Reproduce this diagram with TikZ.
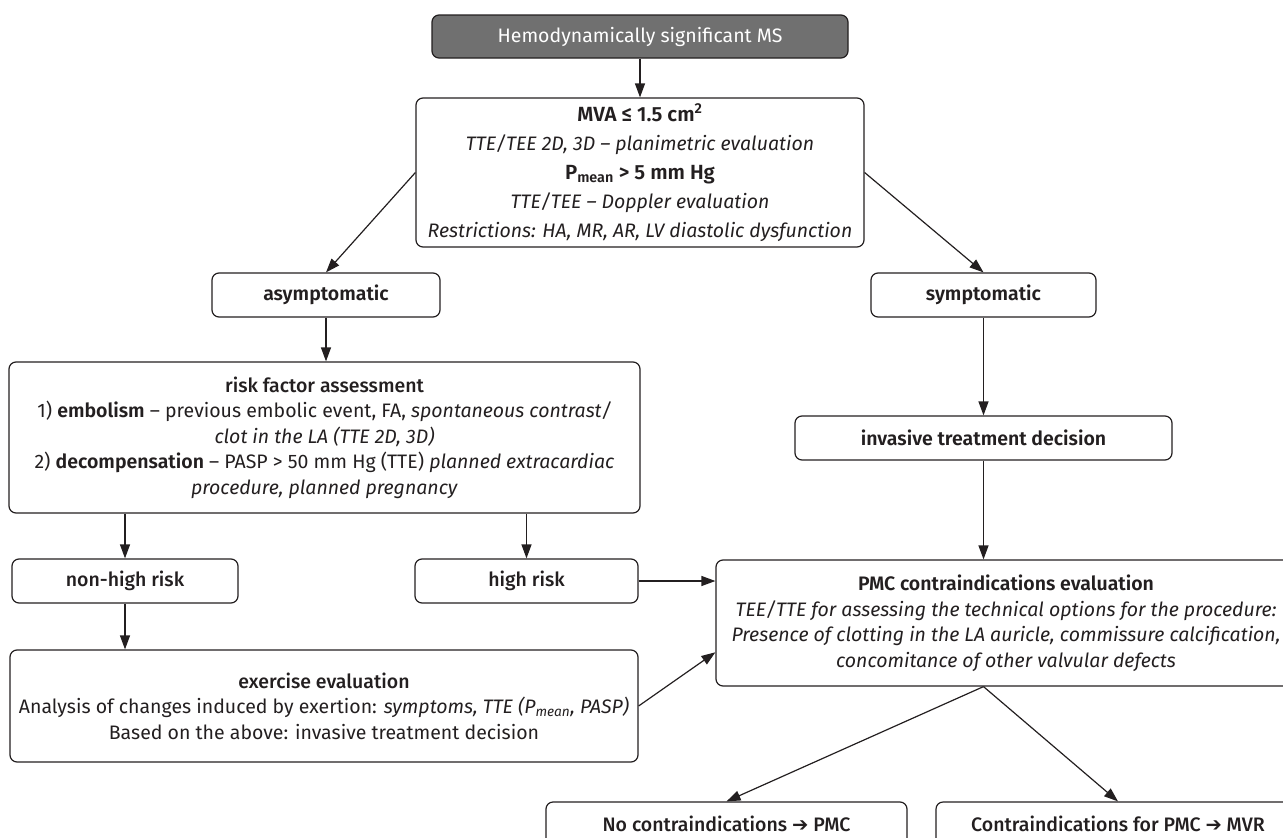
\documentclass[tikz,border=0pt]{standalone}
\usepackage{fontspec}
\setmainfont{Fira Sans}[BoldFont={Fira Sans SemiBold}]
\newfontfamily\arrowfont{DejaVu Sans}
\newfontfamily\medium{Fira Sans Medium}
\usetikzlibrary{arrows.meta,calc}
\definecolor{ink}{RGB}{35,31,32}
\definecolor{headgray}{RGB}{112,112,112}
\newcommand{\harrow}{{\arrowfont\bfseries ➔}}

\begin{document}
\begin{tikzpicture}[x=1pt,y=-1pt]
\tikzstyle{every node}+=[inner sep=0pt, text=ink, font=\fontsize{19.5}{25.5}\selectfont]
\tikzstyle{box}=[draw=ink, line width=1.2pt, rounded corners=7pt, align=center]
\tikzstyle{link}=[draw=ink, line width=1.2pt, -{Triangle[length=14pt,width=10pt]}]
\clip (0,0) rectangle (1283,838);
% top row
\node [box, fill=headgray, text=white, minimum width=416pt, minimum height=43pt] (ms) at (640,36.5) {Hemodynamically significant MS};
\node [box, minimum width=448pt, minimum height=149pt, font=\fontsize{19.5}{29}\selectfont] (mva) at (640,172.5) {%
{\bfseries\fontsize{20.5}{29}\selectfont MVA ≤ 1.5 cm\textsuperscript{2}}\\
{\itshape TTE/TEE 2D, 3D -- planimetric evaluation}\\
{\bfseries\fontsize{20.5}{29}\selectfont P\textsubscript{mean} > 5 mm Hg}\\
{\itshape TTE/TEE -- Doppler evaluation}\\
{\itshape Restrictions: HA, MR, AR, LV diastolic dysfunction}};
% left branch
\node [box, minimum width=228pt, minimum height=44pt, font=\fontsize{19.5}{25}\bfseries] (asym) at (326,295) {asymptomatic};
\node [box, minimum width=631pt, minimum height=151pt] (risk) at (324.5,437.5) {%
{\medium risk factor assessment}\\
1) \textbf{embolism} -- previous embolic event, FA, \textit{spontaneous contrast/}\\
\textit{clot in the LA (TTE 2D, 3D)}\\
2) \textbf{decompensation} -- PASP > 50 mm Hg (TTE) \textit{planned extracardiac}\\
\textit{procedure, planned pregnancy}};
\node [box, minimum width=226pt, minimum height=44pt, font=\fontsize{19.5}{25}\medium] (low) at (125,581) {non-high risk};
\node [box, minimum width=223pt, minimum height=44pt, font=\fontsize{19.5}{25}\medium] (high) at (526.5,581) {high risk};
\node [box, minimum width=628pt, minimum height=112pt] (exer) at (324,706) {%
{\medium exercise evaluation}\\
Analysis of changes induced by exertion: \textit{symptoms, TTE (P\textsubscript{mean}, PASP)}\\
Based on the above: invasive treatment decision};
% right branch
\node [box, minimum width=225pt, minimum height=44pt, font=\fontsize{19.5}{25}\bfseries] (sym) at (983.5,295) {symptomatic};
\node [box, minimum width=377pt, minimum height=44pt, font=\fontsize{19.5}{25}\bfseries] (inv) at (983.5,438) {invasive treatment decision};
\node [box, minimum width=580pt, minimum height=126pt] (pmc) at (1006,623) {%
\textbf{PMC contraindications evaluation}\\
\textit{TEE/TTE for assessing the technical options for the procedure:}\\
\textit{Presence of clotting in the LA auricle, commissure calcification,}\\
\textit{concomitance of other valvular defects}};
\node [box, minimum width=361pt, minimum height=44pt, font=\fontsize{19.5}{25}\medium] (noci) at (726.5,824) {No contraindications \harrow{} PMC};
\node [box, minimum width=364pt, minimum height=44pt, font=\fontsize{19.5}{25}\medium] (ci) at (1118,824) {Contraindications for PMC \harrow{} MVR};
% connectors
\draw [link] (ms) -- (mva);
\draw [link] (mva.west) -- (asym.north);
\draw [link] (mva.east) -- (sym.north);
\draw [link] (asym.south) -- (asym.south |- risk.north);
\draw [link] (low.north |- risk.south) -- (low.north);
\draw [link] (high.north |- risk.south) -- (high.north);
\draw [link] (low.south) -- (low.south |- exer.north);
\draw [link] (high.east) -- (high.east -| pmc.west);
\draw [link] (exer.east) -- ($(pmc.south west)!0.27!(pmc.north west)$);
\draw [link] (sym) -- (inv);
\draw [link] (inv.south) -- (inv.south |- pmc.north);
\draw [link] (inv.south |- pmc.south) -- (noci.north);
\draw [link] (inv.south |- pmc.south) -- (ci.north);
\end{tikzpicture}
\end{document}
